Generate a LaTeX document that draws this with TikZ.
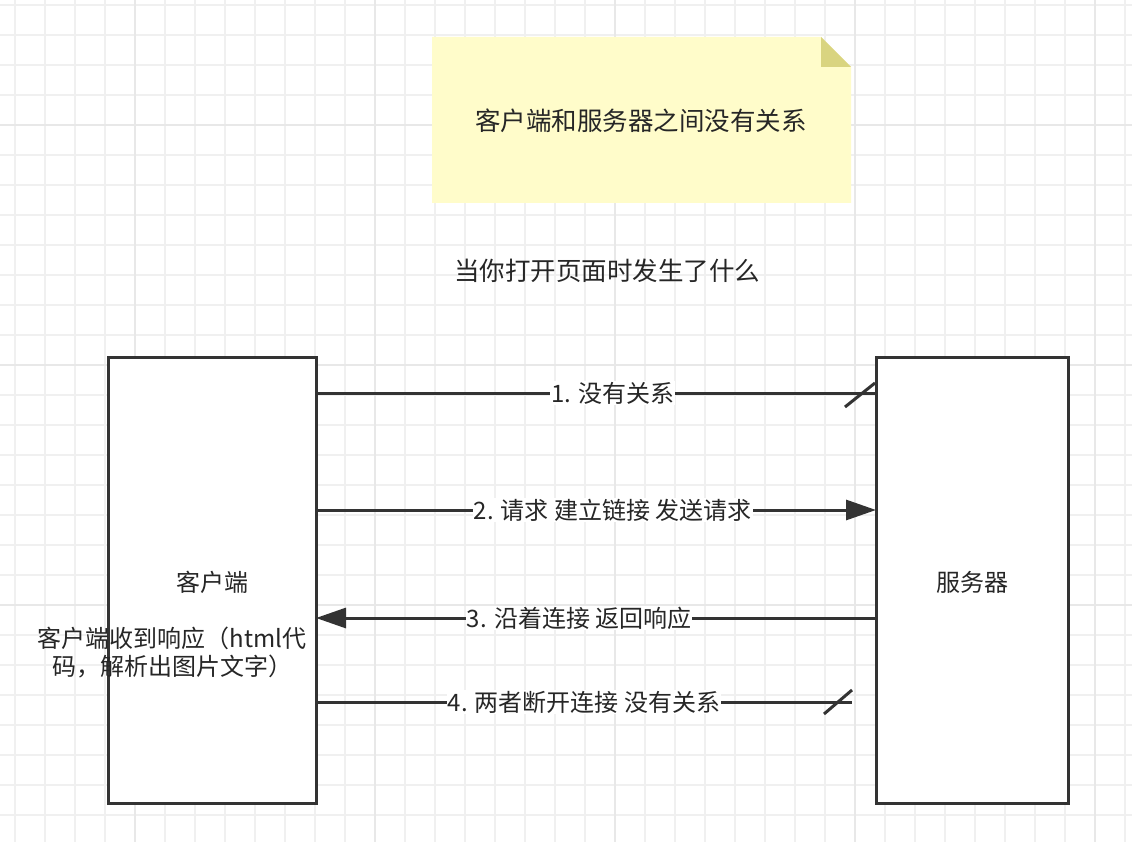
\documentclass[tikz,border=0pt]{standalone}
\usepackage{fontspec}
\setmainfont{Noto Sans CJK SC}
\usetikzlibrary{arrows.meta}
\begin{document}
\begin{tikzpicture}[x=1pt,y=-1pt,
  box/.style={draw=black!80,line width=3pt,fill=white,inner sep=0},
  lbl/.style={fill=white,inner sep=1pt,font=\fontsize{24}{28}\selectfont,text=black!85},
  ln/.style={draw=black!80,line width=3pt},
  txt/.style={font=\fontsize{25.5}{31}\selectfont,text=black!85},
  tip/.style={-{Triangle[length=30pt,width=20pt]}}]
\useasboundingbox (0,0) rectangle (1132,842);
\fill[white] (0,0) rectangle (1132,842);
\foreach \x in {15,45,...,1132} \draw[black!6,line width=2pt] (\x,0) -- (\x,842);
\foreach \y in {5,35,...,842} \draw[black!6,line width=2pt] (0,\y) -- (1132,\y);
\foreach \x in {135,375,...,1132} \draw[black!9,line width=2pt] (\x,0) -- (\x,842);
\foreach \y in {125,365,...,842} \draw[black!9,line width=2pt] (0,\y) -- (1132,\y);
% note
\fill[yellow!20!white!60!yellow!40] (432,37) -- (821,37) -- (851,67) -- (851,203) -- (432,203) -- cycle;
\fill[yellow!55!gray!75] (821,37) -- (851,67) -- (821,67) -- cycle;
\node[txt] (note) at (641,121) {客户端和服务器之间没有关系};
\node[txt] (title) at (607,271) {当你打开页面时发生了什么};
\node[box,minimum width=208,minimum height=446] (c) at (212,580) {};
\node[box,minimum width=192,minimum height=446] (s) at (972,580) {};
\node[lbl,fill=none] at (212,582) {客户端};
\node[lbl,fill=none] at (972,582) {服务器};
\draw[ln] (316,393) -- (876,393) node[lbl,pos=0.53] {1. 没有关系};
\draw[ln] (845,407) -- (875,383);
\draw[ln,tip] (316,510) -- (876,510) node[lbl,pos=0.53] {2. 请求 建立链接 发送请求};
\draw[ln,tip] (876,618) -- (316,618) node[lbl,pos=0.53] {3. 沿着连接 返回响应};
\draw[ln] (316,702) -- (852,702) node[lbl,pos=0.5] {4. 两者断开连接 没有关系};
\draw[ln] (824,714) -- (852,690);
\node[lbl,fill=none,align=center] (cr) at (172,653) {客户端收到响应（html代\\码，解析出图片文字）};
\end{tikzpicture}
\end{document}
